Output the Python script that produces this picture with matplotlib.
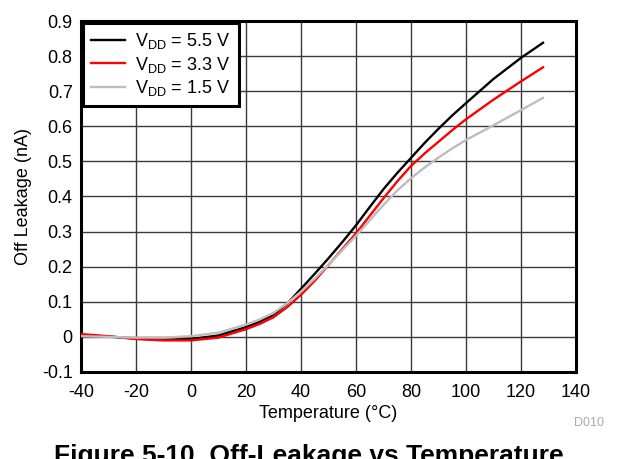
import matplotlib
matplotlib.use("Agg")
import matplotlib.pyplot as plt
import numpy as np

plt.rcParams['font.family'] = ['Liberation Sans', 'DejaVu Sans']
plt.rcParams['mathtext.fontset'] = 'custom'
plt.rcParams['mathtext.rm'] = 'Liberation Sans'
plt.rcParams['mathtext.it'] = 'Liberation Sans:italic'
plt.rcParams['axes.unicode_minus'] = False

temps = [-40, -30, -20, -10, 0, 10, 20, 25, 30, 35, 40, 45, 50, 55, 60, 65, 70, 75, 80, 85, 90, 95, 100, 110, 120, 128]
vdd_55 = [0.004, 0.001, -0.005, -0.008, -0.006, 0.004, 0.028, 0.043, 0.063, 0.095, 0.137, 0.180, 0.224, 0.270,
          0.318, 0.370, 0.421, 0.467, 0.510, 0.553, 0.593, 0.631, 0.666, 0.735, 0.795, 0.838]
vdd_33 = [0.008, 0.002, -0.006, -0.010, -0.010, -0.002, 0.022, 0.037, 0.056, 0.085, 0.120, 0.160, 0.205, 0.250,
          0.295, 0.345, 0.395, 0.443, 0.487, 0.523, 0.556, 0.589, 0.620, 0.676, 0.728, 0.768]
vdd_15 = [0.002, 0.000, -0.002, -0.002, 0.002, 0.012, 0.035, 0.050, 0.068, 0.096, 0.129, 0.166, 0.206, 0.247,
          0.288, 0.332, 0.376, 0.417, 0.452, 0.483, 0.511, 0.537, 0.561, 0.603, 0.646, 0.681]
labels = [r'V$_{\mathrm{DD}}$ = 5.5 V', r'V$_{\mathrm{DD}}$ = 3.3 V', r'V$_{\mathrm{DD}}$ = 1.5 V']
colors = ['#000000', '#ff0000', '#bdbdbd']
xticks = [-40, -20, 0, 20, 40, 60, 80, 100, 120, 140]
yticks = [-0.1, 0, 0.1, 0.2, 0.3, 0.4, 0.5, 0.6, 0.7, 0.8, 0.9]
ytick_labels = ['-0.1', '0', '0.1', '0.2', '0.3', '0.4', '0.5', '0.6', '0.7', '0.8', '0.9']

fig = plt.figure(figsize=(6.18, 4.59), dpi=100)
ax = fig.add_axes([81/618, 1-372/459, (576-81)/618, (372-21)/459])

for ys, lab, c in zip([vdd_55, vdd_33, vdd_15], labels, colors):
    ax.plot(temps, ys, color=c, lw=1.7, label=lab, zorder=3, solid_joinstyle='round')

ax.set_xlim(-40, 140)
ax.set_ylim(-0.1, 0.9)
ax.set_xticks(xticks)
ax.set_yticks(yticks)
ax.set_yticklabels(ytick_labels)
ax.grid(True, color='#3a3a3a', lw=1.0)
ax.tick_params(axis='x', length=0, labelsize=13, pad=8.5)
ax.tick_params(axis='y', length=0, labelsize=13, pad=6)
for s in ax.spines.values():
    s.set_linewidth(2.2)
    s.set_color('black')

ax.set_xlabel('Temperature (°C)', fontsize=13, labelpad=3)
ax.set_ylabel('Off Leakage (nA)', fontsize=13, labelpad=7)

leg = ax.legend(loc='upper left', fontsize=13, frameon=True, fancybox=False,
                borderaxespad=0.1, handlelength=1.9, labelspacing=0.2,
                borderpad=0.45, handletextpad=0.55)
leg.get_frame().set_edgecolor('black')
leg.get_frame().set_linewidth(2.2)
leg.get_frame().set_alpha(1)

fig.text(604/618, 1-423/459, 'D010', color='#aaaaaa', fontsize=9, ha='right', va='center')
fig.text(0.5, 1-463/459, 'Figure 5-10. Off-Leakage vs Temperature', fontsize=19,
         fontweight='bold', ha='center', va='baseline')

fig.savefig('out.png', dpi=100)
